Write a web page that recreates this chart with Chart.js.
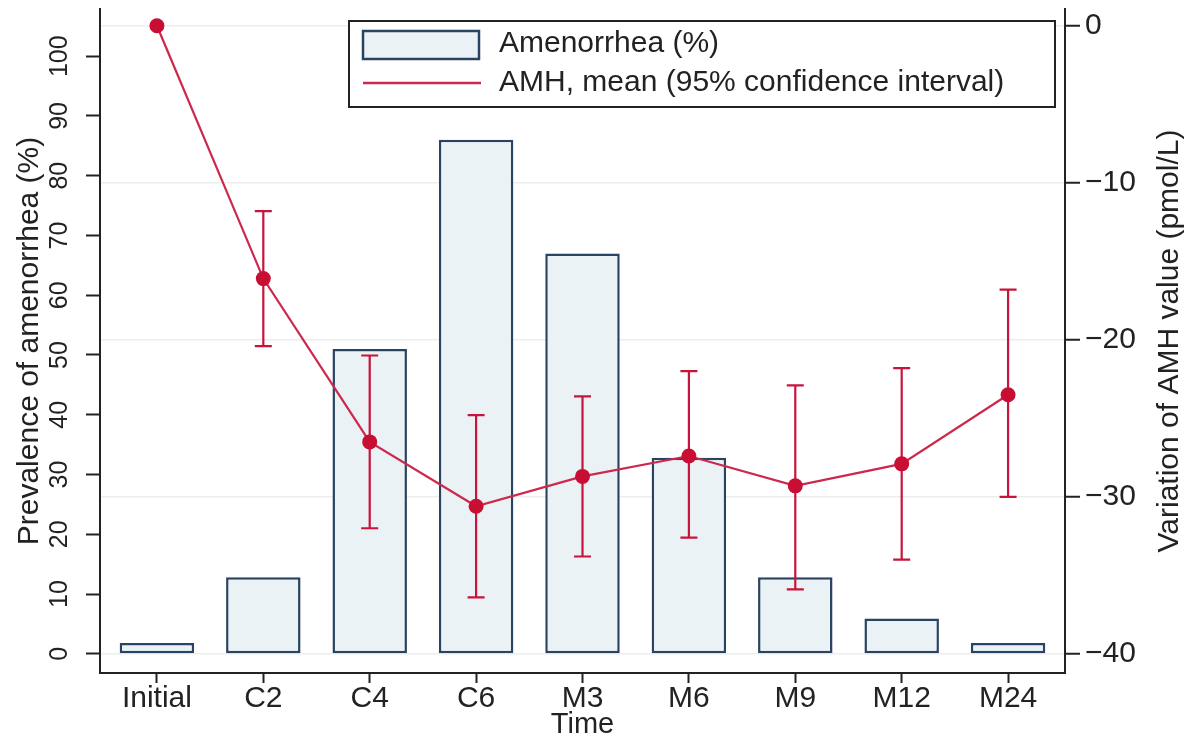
<!DOCTYPE html>
<html>
<head>
<meta charset="utf-8">
<script src="https://cdn.jsdelivr.net/npm/chart.js@4/dist/chart.umd.min.js"></script>
<style>
  html, body { margin: 0; padding: 0; background: #fff; }
  #wrap { width: 1184px; height: 740px; position: relative; }
</style>
</head>
<body>
<div id="wrap"><canvas id="chart" width="1184" height="740"></canvas></div>
<script>
// Time points
const categories = ['Initial', 'C2', 'C4', 'C6', 'M3', 'M6', 'M9', 'M12', 'M24'];
// Prevalence of amenorrhea (%)
const amenorrheaPct = [1.8, 12.8, 51.0, 86.0, 67.0, 32.8, 12.8, 5.9, 1.8];
// Variation of AMH (pmol/L): mean and 95% CI bounds
const amhMean  = [0, -16.1, -26.5, -30.6, -28.7, -27.4, -29.3, -27.9, -23.5];
const amhLower = [null, -20.4, -32.0, -36.4, -33.8, -32.6, -35.9, -34.0, -30.0];
const amhUpper = [null, -11.8, -21.0, -24.8, -23.6, -22.0, -22.9, -21.8, -16.8];
// Axis tick labels
const leftTicks  = [0, 10, 20, 30, 40, 50, 60, 70, 80, 90, 100];
const rightTicks = [-40, -30, -20, -10, 0];
const seriesLabels = ['Amenorrhea (%)', 'AMH, mean (95% confidence interval)'];
const axisTitles = { x: 'Time', left: 'Prevalence of amenorrhea (%)', right: 'Variation of AMH value (pmol/L)' };

const FONT = '"Liberation Sans", Arial, Helvetica, sans-serif';
const INK = '#222';
const BAR_FILL = 'rgb(234,242,246)';
const BAR_EDGE = 'rgb(40,68,98)';
const LINE_COL = 'rgb(205,40,75)';
const POINT_COL = 'rgb(200,14,50)';
const ERR_COL = 'rgb(200,20,60)';

Chart.defaults.font.family = FONT;
Chart.defaults.color = INK;

const minusFmt = v => (v < 0 ? '\u2212' + Math.abs(v) : String(v));

// Whisker bars for the AMH confidence interval, drawn under the line and points
const errorBars = {
  id: 'errorBars',
  beforeDatasetDraw(chart, args) {
    if (args.meta.type !== 'line') return;
    const { ctx, scales: { x, y2 } } = chart;
    ctx.save();
    ctx.strokeStyle = ERR_COL;
    ctx.lineWidth = 2.2;
    const cap = 8.5;
    amhLower.forEach((lo, i) => {
      const hi = amhUpper[i];
      if (lo == null || hi == null) return;
      const px = x.getPixelForValue(i);
      const pTop = y2.getPixelForValue(hi);
      const pBot = y2.getPixelForValue(lo);
      ctx.beginPath();
      ctx.moveTo(px, pTop); ctx.lineTo(px, pBot);
      ctx.moveTo(px - cap, pTop); ctx.lineTo(px + cap, pTop);
      ctx.moveTo(px - cap, pBot); ctx.lineTo(px + cap, pBot);
      ctx.stroke();
    });
    ctx.restore();
  }
};

// Boxed legend in the upper part of the plot
const boxedLegend = {
  id: 'boxedLegend',
  beforeDatasetsDraw(chart) {
    const { ctx } = chart;
    const bx = 349, by = 21, bw = 706, bh = 86;
    ctx.save();
    ctx.fillStyle = '#fff';
    ctx.fillRect(bx, by, bw, bh);
    ctx.strokeStyle = INK;
    ctx.lineWidth = 2;
    ctx.strokeRect(bx, by, bw, bh);
    // bar swatch
    ctx.fillStyle = BAR_FILL;
    ctx.fillRect(363, 31, 116, 28);
    ctx.strokeStyle = BAR_EDGE;
    ctx.lineWidth = 2.5;
    ctx.strokeRect(363, 31, 116, 28);
    // line swatch
    ctx.strokeStyle = LINE_COL;
    ctx.lineWidth = 2.5;
    ctx.beginPath(); ctx.moveTo(363, 83); ctx.lineTo(481, 83); ctx.stroke();
    // labels
    ctx.fillStyle = INK;
    ctx.font = '30px ' + FONT;
    ctx.textAlign = 'left';
    ctx.textBaseline = 'middle';
    ctx.fillText(chart.data.datasets[1].label, 499, 44);
    ctx.fillText(chart.data.datasets[0].label, 499, 83);
    ctx.restore();
  }
};

// Rotated left tick labels and the right-hand axis title
const extraText = {
  id: 'extraText',
  afterDraw(chart) {
    const { ctx, scales: { y }, chartArea } = chart;
    ctx.save();
    ctx.fillStyle = INK;
    ctx.textAlign = 'center';
    ctx.textBaseline = 'middle';
    ctx.font = '25px ' + FONT;
    y.ticks.forEach(t => {
      const py = y.getPixelForValue(t.value);
      ctx.save();
      ctx.translate(60, py);
      ctx.rotate(-Math.PI / 2);
      ctx.fillText(String(t.value), 0, 0);
      ctx.restore();
    });
    ctx.font = '30px ' + FONT;
    ctx.translate(1170, (chartArea.top + chartArea.bottom) / 2);
    ctx.rotate(-Math.PI / 2);
    ctx.fillText(axisTitles.right, 0, 0);
    ctx.restore();
  }
};

const zeroPad = s => { s.paddingTop = 0; s.paddingBottom = 0; s.paddingLeft = 0; s.paddingRight = 0; };

new Chart(document.getElementById('chart'), {
  data: {
    datasets: [
      {
        type: 'line',
        label: seriesLabels[1],
        data: amhMean.map((v, i) => ({ x: i, y: v })),
        yAxisID: 'y2',
        borderColor: LINE_COL,
        borderWidth: 2.2,
        pointRadius: 7.5,
        pointHoverRadius: 7.5,
        pointBackgroundColor: POINT_COL,
        pointBorderWidth: 0,
        tension: 0,
        order: 1
      },
      {
        type: 'bar',
        label: seriesLabels[0],
        data: amenorrheaPct.map((v, i) => ({ x: i, y: v })),
        yAxisID: 'y',
        backgroundColor: BAR_FILL,
        borderColor: BAR_EDGE,
        borderWidth: 2.5,
        borderSkipped: false,
        barPercentage: 0.7,
        categoryPercentage: 1.0,
        order: 2
      }
    ]
  },
  options: {
    responsive: false,
    animation: false,
    devicePixelRatio: 1,
    layout: { padding: { top: 9, left: 0, right: 0, bottom: 0 } },
    plugins: { legend: { display: false }, tooltip: { enabled: false } },
    scales: {
      x: {
        type: 'linear',
        position: 'bottom',
        offset: false,
        min: -0.535,
        max: 8.535,
        afterBuildTicks: s => { s.ticks = categories.map((_, i) => ({ value: i })); },
        ticks: {
          callback: v => categories[v] ?? '',
          autoSkip: false,
          maxRotation: 0,
          minRotation: 0,
          padding: 1,
          font: { size: 30, lineHeight: 1 },
          color: INK
        },
        grid: { display: true, offset: false, drawOnChartArea: false, drawTicks: true, tickLength: 10, tickWidth: 2, tickColor: INK },
        border: { display: true, color: INK, width: 2 },
        title: { display: true, text: axisTitles.x, font: { size: 29, lineHeight: 1 }, padding: { top: 0, bottom: 1 }, color: INK },
        afterFit: s => { s.height = 67; zeroPad(s); }
      },
      y: {
        type: 'linear',
        position: 'left',
        min: -3.22,
        max: 107.9,
        afterBuildTicks: s => { s.ticks = leftTicks.map(v => ({ value: v })); },
        ticks: { display: false },
        grid: { display: true, drawOnChartArea: false, drawTicks: true, tickLength: 14, tickWidth: 2, tickColor: INK },
        border: { display: true, color: INK, width: 2 },
        title: { display: true, text: axisTitles.left, font: { size: 30, lineHeight: 1 }, padding: { top: 15, bottom: 0 }, color: INK },
        afterFit: s => { s.width = 100; zeroPad(s); }
      },
      y2: {
        type: 'linear',
        position: 'right',
        min: -41.22,
        max: 1.07,
        afterBuildTicks: s => { s.ticks = rightTicks.map(v => ({ value: v })); },
        ticks: { callback: minusFmt, padding: 5, font: { size: 30, lineHeight: 1 }, color: INK },
        grid: { display: true, drawOnChartArea: true, color: 'rgba(0,0,0,0.07)', lineWidth: 1.5, drawTicks: true, tickLength: 15, tickWidth: 2, tickColor: INK },
        border: { display: true, color: INK, width: 2 },
        afterFit: s => { s.width = 119; zeroPad(s); }
      }
    }
  },
  plugins: [errorBars, boxedLegend, extraText]
});
</script>
</body>
</html>
